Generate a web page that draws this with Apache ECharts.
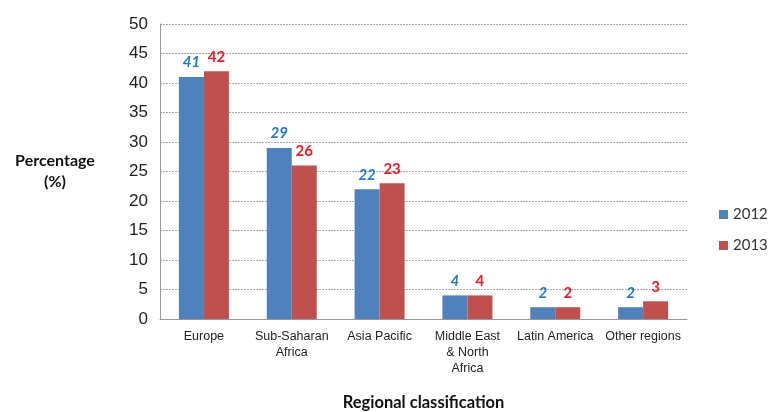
<!DOCTYPE html>
<html>
<head>
<meta charset="utf-8">
<script src="https://cdn.jsdelivr.net/npm/echarts@6/dist/echarts.min.js"></script>
<style>
  html, body { margin: 0; padding: 0; background: #fff; }
  #chart { width: 777px; height: 412px; }
</style>
</head>
<body>
<div id="chart"></div>
<script>
const regions = ['Europe', 'Sub-Saharan\nAfrica', 'Asia Pacific', 'Middle East\n& North\nAfrica', 'Latin America', 'Other regions'];
const values2012 = [41, 29, 22, 4, 2, 2];
const values2013 = [42, 26, 23, 4, 2, 3];

const chart = echarts.init(document.getElementById('chart'));

const options = {
  animation: false,
  backgroundColor: '#fff',
  grid: { left: 160, right: 90, top: 24, bottom: 93, outerBoundsMode: 'none' },
  legend: {
    orient: 'vertical',
    left: 714,
    top: 202,
    itemWidth: 9,
    itemHeight: 9,
    itemGap: 16,
    icon: 'rect',
    textStyle: { fontFamily: 'Lato', fontSize: 15, color: '#333' },
    data: ['2012', '2013']
  },
  xAxis: {
    type: 'category',
    data: regions,
    name: 'Regional classification',
    nameLocation: 'middle',
    nameGap: 75,
    nameTextStyle: { fontFamily: 'Lato', fontWeight: 'bold', fontSize: 16.5, color: '#111' },
    axisLine: { lineStyle: { color: '#999' } },
    axisTick: { show: false },
    axisLabel: {
      interval: 0,
      fontFamily: 'Liberation Sans',
      fontSize: 12.5,
      color: '#222',
      lineHeight: 16,
      margin: 10
    }
  },
  yAxis: {
    type: 'value',
    min: 0,
    max: 50,
    interval: 5,
    name: 'Percentage\n(%)',
    nameLocation: 'middle',
    nameRotate: 0,
    nameGap: 105,
    nameTextStyle: { fontFamily: 'Lato', fontWeight: 'bold', fontSize: 16, color: '#111', lineHeight: 21, align: 'center' },
    axisLine: { show: true, lineStyle: { color: '#999' } },
    axisTick: { show: false },
    axisLabel: { fontFamily: 'Liberation Sans', fontSize: 17, color: '#222', margin: 12 },
    splitLine: { lineStyle: { color: '#aaa', type: [2, 1] } }
  },
  series: [
    {
      name: '2012',
      type: 'bar',
      data: values2012,
      barWidth: 25,
      barGap: '0%',
      itemStyle: { color: '#4f81bd' },
      label: {
        show: true,
        position: 'top',
        distance: 7,
        fontFamily: 'Lato',
        fontSize: 15,
        fontWeight: 'bold',
        fontStyle: 'italic',
        color: '#1f78c8'
      }
    },
    {
      name: '2013',
      type: 'bar',
      data: values2013,
      barWidth: 25,
      itemStyle: { color: '#c0504d' },
      label: {
        show: true,
        position: 'top',
        distance: 7,
        fontFamily: 'Lato',
        fontSize: 15,
        fontWeight: 'bold',
        color: '#ee1c25'
      }
    }
  ]
};

chart.setOption(options);
</script>
</body>
</html>
